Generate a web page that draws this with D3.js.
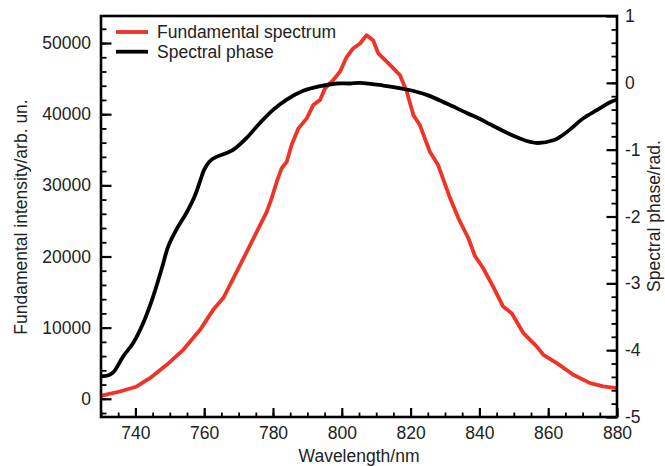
<!DOCTYPE html>
<html>
<head>
<meta charset="utf-8">
<script src="https://cdn.jsdelivr.net/npm/d3@7"></script>
<style>
  html, body { margin: 0; padding: 0; background: #fff; }
  svg { display: block; }
  text { font-family: "Liberation Sans", Arial, Helvetica, sans-serif; fill: #222; }
</style>
</head>
<body>
<svg id="chart" width="665" height="466"></svg>
<script>
// ---- data ----
const spectrumWavelength = [730, 735.5, 740.4, 744.2, 749.1, 753.9, 758.8, 762.6, 765.6, 768.5, 772.4, 775.3, 778.2, 779.6, 781.1, 782.5, 784.0, 785.4, 787.4, 789.8, 791.7, 793.7, 795.1, 797.5, 799.5, 801.4, 803.3, 805.3, 807.2, 809.1, 810.6, 812.6, 815.0, 816.9, 818.9, 820.8, 822.7, 825.6, 828.0, 831.5, 833.9, 836.8, 838.7, 841.1, 844.0, 846.9, 849.4, 852.8, 856.7, 858.6, 862.5, 867.3, 872.2, 876, 880];
const spectrumIntensity = [420, 1025, 1730, 2900, 4770, 6880, 9690, 12500, 14200, 16950, 20680, 23490, 26300, 28180, 30510, 32390, 33320, 35660, 38010, 39410, 41280, 42010, 43620, 44790, 46000, 48020, 49240, 49940, 51110, 50400, 48540, 47600, 46430, 45490, 43150, 39870, 38470, 34720, 32850, 28180, 25370, 22560, 20080, 18350, 15770, 12960, 12030, 9220, 7340, 6180, 5010, 3370, 2200, 1750, 1500];

const phaseWavelength = [730, 732, 733.6, 736.5, 739.4, 742.3, 745.2, 747.6, 749.6, 752.0, 754.9, 757.3, 758.8, 760.0, 761.5, 763.1, 766.5, 768.5, 772.4, 776.2, 780.1, 784.0, 788.8, 793.7, 798.5, 802.4, 805.3, 812.1, 818.9, 824.7, 830.5, 836.3, 840.2, 843.1, 848.9, 853.8, 857.1, 861.5, 863.4, 866.3, 870.2, 874.1, 878.0, 880];
const phaseValues = [-4.39, -4.38, -4.33, -4.09, -3.89, -3.59, -3.19, -2.79, -2.44, -2.19, -1.94, -1.69, -1.47, -1.30, -1.18, -1.12, -1.05, -1.00, -0.82, -0.60, -0.40, -0.25, -0.12, -0.05, -0.01, -0.01, 0.00, -0.04, -0.10, -0.18, -0.31, -0.45, -0.54, -0.62, -0.77, -0.87, -0.90, -0.86, -0.81, -0.70, -0.53, -0.41, -0.29, -0.25];

const xMajorTicks = [740, 760, 780, 800, 820, 840, 860, 880];
const yLeftMajorTicks = [0, 10000, 20000, 30000, 40000, 50000];
const yRightMajorTicks = [-5, -4, -3, -2, -1, 0, 1];

const seriesNames = ["Fundamental spectrum", "Spectral phase"];
const seriesColors = ["#ef3326", "#000000"];

// ---- layout ----
const svg = d3.select("#chart");
const L = 101, R = 617, T = 16, B = 417;
const fontSize = 17.5;

const x = d3.scaleLinear().domain([730, 880]).range([L, R]);
const yL = d3.scaleLinear().domain([-2560, 53800]).range([B, T]);
const yR = d3.scaleLinear().domain([-5, 1]).range([B, T]);

// clip
svg.append("defs").append("clipPath").attr("id", "clip")
  .append("rect").attr("x", L).attr("y", T).attr("width", R - L).attr("height", B - T);

// ---- axes ----
function styleAxis(g, major) {
  g.select(".domain").remove();
  g.selectAll(".tick line").attr("stroke", "#000").attr("stroke-width", major ? 2.2 : 1.8);
  g.selectAll(".tick text").style("font-size", fontSize + "px")
    .style("font-family", '"Liberation Sans", Arial, sans-serif').attr("fill", "#222");
}
const fmt = d => String(d);

// bottom
svg.append("g").attr("transform", `translate(0,${B})`)
  .call(d3.axisBottom(x).tickValues(d3.range(730, 881, 5)).tickSize(-4.5).tickFormat(""))
  .call(g => styleAxis(g, false));
svg.append("g").attr("transform", `translate(0,${B})`)
  .call(d3.axisBottom(x).tickValues(xMajorTicks).tickSize(-9).tickPadding(10).tickFormat(fmt))
  .call(g => styleAxis(g, true));

// left
svg.append("g").attr("transform", `translate(${L},0)`)
  .call(d3.axisLeft(yL).tickValues(d3.range(-2000, 53000, 2000)).tickSize(-5.5).tickFormat(""))
  .call(g => styleAxis(g, false));
svg.append("g").attr("transform", `translate(${L},0)`)
  .call(d3.axisLeft(yL).tickValues(yLeftMajorTicks).tickSize(-10.5).tickPadding(10).tickFormat(fmt))
  .call(g => styleAxis(g, true));

// right
svg.append("g").attr("transform", `translate(${R},0)`)
  .call(d3.axisRight(yR).tickValues(d3.range(-4.8, 1, 0.2).map(v => +v.toFixed(1))).tickSize(-5.5).tickFormat(""))
  .call(g => styleAxis(g, false));
svg.append("g").attr("transform", `translate(${R},0)`)
  .call(d3.axisRight(yR).tickValues(yRightMajorTicks).tickSize(-10.5).tickPadding(8).tickFormat(fmt))
  .call(g => styleAxis(g, true));

// ---- lines ----
const redData = spectrumWavelength.map((w, i) => [w, spectrumIntensity[i]]);
const blackData = phaseWavelength.map((w, i) => [w, phaseValues[i]]);

const plot = svg.append("g").attr("clip-path", "url(#clip)");
plot.append("path").datum(redData)
  .attr("fill", "none").attr("stroke", seriesColors[0]).attr("stroke-width", 3.8)
  .attr("stroke-linejoin", "round")
  .attr("d", d3.line().x(d => x(d[0])).y(d => yL(d[1])).curve(d3.curveLinear));
plot.append("path").datum(blackData)
  .attr("fill", "none").attr("stroke", seriesColors[1]).attr("stroke-width", 3.8)
  .attr("stroke-linejoin", "round")
  .attr("d", d3.line().x(d => x(d[0])).y(d => yR(d[1])).curve(d3.curveCatmullRom.alpha(0.5)));

// frame
svg.append("rect").attr("x", L).attr("y", T).attr("width", R - L).attr("height", B - T)
  .attr("fill", "none").attr("stroke", "#000").attr("stroke-width", 2.6);

// ---- legend ----
const legend = svg.append("g");
seriesNames.forEach((name, i) => {
  const yy = 32 + i * 19.7;
  legend.append("line").attr("x1", 116).attr("x2", 148).attr("y1", yy).attr("y2", yy)
    .attr("stroke", seriesColors[i]).attr("stroke-width", 3.8);
  legend.append("text").attr("x", 157).attr("y", yy).attr("dy", "0.35em")
    .style("font-size", fontSize + "px").text(name);
});

// ---- axis titles ----
svg.append("text").attr("x", (L + R) / 2 + 0).attr("y", 461.5).attr("text-anchor", "middle")
  .style("font-size", fontSize + "px").text("Wavelength/nm");
svg.append("text").attr("transform", `translate(27,217) rotate(-90)`).attr("text-anchor", "middle")
  .style("font-size", fontSize + "px").text("Fundamental intensity/arb. un.");
svg.append("text").attr("transform", `translate(660,216) rotate(-90)`).attr("text-anchor", "middle")
  .style("font-size", fontSize + "px").text("Spectral phase/rad.");
</script>
</body>
</html>
